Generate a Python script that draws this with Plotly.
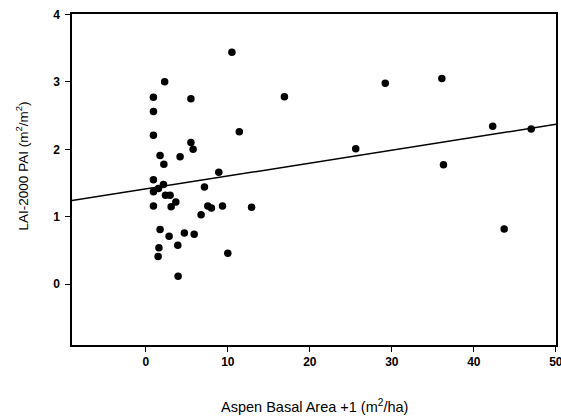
import plotly.graph_objects as go

# Data
basal_area = [2.3, 0.93, 5.5, 0.93, 0.93, 11.4, 5.5, 5.77, 1.74, 4.18, 2.2, 8.9,
              0.93, 2.15, 1.54, 0.93, 7.15, 2.4, 2.96, 3.66, 3.09, 0.93, 7.56, 8.0,
              9.35, 12.9, 6.74, 1.74, 4.7, 5.9, 2.84, 3.9, 1.6, 1.5, 10.0, 3.94,
              10.5, 16.9, 29.2, 36.1, 42.3, 47.0, 25.6, 36.3, 43.7]
pai = [3.00, 2.77, 2.75, 2.56, 2.21, 2.26, 2.10, 2.00, 1.91, 1.89, 1.78, 1.66,
       1.55, 1.48, 1.42, 1.37, 1.44, 1.32, 1.32, 1.22, 1.15, 1.16, 1.16, 1.13,
       1.16, 1.14, 1.03, 0.81, 0.76, 0.74, 0.71, 0.58, 0.54, 0.41, 0.46, 0.12,
       3.44, 2.78, 2.98, 3.05, 2.34, 2.30, 2.01, 1.77, 0.82]

fit_intercept = 1.412
fit_slope = 0.01915
x_range = [-9, 50.02]
y_range = [-0.9, 4.005]
x_ticks = [0, 10, 20, 30, 40, 50]
y_ticks = [0, 1, 2, 3, 4]
x_title = "Aspen Basal Area +1 (m<sup>2</sup>/ha)"
y_title = "LAI-2000 PAI (m<sup>2</sup>/m<sup>2</sup>)"

fit_x = x_range
fit_y = [fit_intercept + fit_slope * v for v in fit_x]

FONT = "Liberation Sans, Arial, sans-serif"

fig = go.Figure()
fig.add_trace(go.Scatter(x=fit_x, y=fit_y, mode="lines",
                         line=dict(color="black", width=1.5), showlegend=False))
fig.add_trace(go.Scatter(x=basal_area, y=pai, mode="markers",
                         marker=dict(color="black", size=7.5), showlegend=False))

axis_common = dict(ticks="outside", ticklen=5, tickwidth=1.2, tickcolor="black",
                   showgrid=False, zeroline=False, showline=True,
                   linecolor="black", linewidth=1.5, mirror=True,
                   automargin=False, ticklabeloverflow="allow",
                   tickfont=dict(size=12, family=FONT, weight="bold"))

fig.update_layout(
    width=561, height=419,
    margin=dict(l=72, r=5, t=14, b=74),
    paper_bgcolor="white", plot_bgcolor="white",
    font=dict(family=FONT, color="black"),
    xaxis=dict(range=x_range, tickvals=x_ticks, **axis_common),
    yaxis=dict(range=y_range, tickvals=y_ticks, ticklabelstandoff=3, **axis_common),
    annotations=[
        dict(text=x_title, xref="paper", yref="paper", x=0.5, y=-0.183,
             xanchor="center", yanchor="middle", showarrow=False,
             font=dict(size=14.5, family=FONT)),
        dict(text=y_title, xref="paper", yref="paper", x=-0.103, y=0.54,
             xanchor="center", yanchor="middle", showarrow=False, textangle=-90,
             font=dict(size=13.5, family=FONT)),
    ],
)

fig.write_html("out.html",
               config={"displayModeBar": False},
               post_script="document.body.style.margin='0px';"
                           "document.body.style.overflow='hidden';")
